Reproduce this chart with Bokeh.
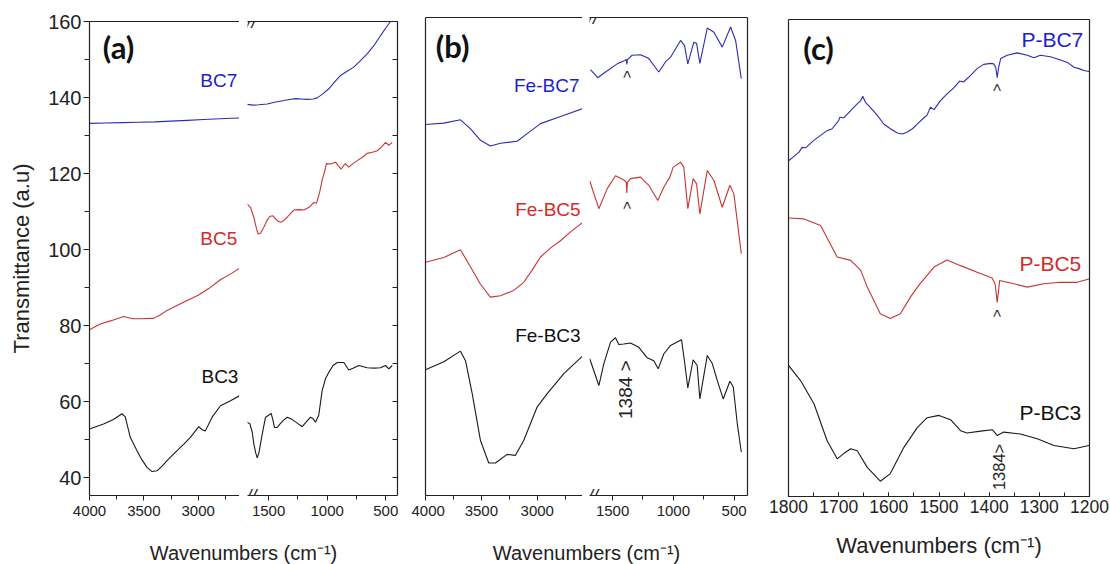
import numpy as np
from bokeh.plotting import figure
from bokeh.models import Range1d, LinearAxis, FixedTicker, Label
from bokeh.layouts import row, column
from bokeh.embed import file_html
from bokeh.resources import INLINE

# ---------------- data: panel (a) ----------------
bc7_hi_wn = [4000, 3850, 3700, 3550, 3400, 3250, 3100, 2950, 2800, 2620]
bc7_hi_t = [133.2, 133.3, 133.4, 133.5, 133.6, 133.8, 134.0, 134.2, 134.4, 134.6]
bc7_lo_wn = [1685, 1630, 1584, 1512, 1440, 1370, 1320, 1270, 1220, 1171, 1120, 1085, 1040, 986,
             940, 886, 830, 773, 720, 659, 600, 545, 500, 460, 430, 400]
bc7_lo_t = [138.2, 138.0, 138.1, 138.3, 138.8, 139.2, 139.5, 139.7, 139.6, 139.5, 139.6, 139.9,
            140.9, 142.3, 144.0, 145.8, 146.9, 148.0, 149.6, 151.5, 153.7, 156.3, 158.3, 160.0,
            161.3, 162.5]

bc5_hi_wn = [4000, 3901, 3800, 3687, 3600, 3533, 3410, 3350, 3287, 3200, 3102, 3000, 2900, 2800,
             2700, 2617]
bc5_hi_t = [78.9, 80.4, 81.3, 82.4, 81.8, 81.8, 81.9, 82.8, 84.0, 85.2, 86.6, 88.0, 89.8, 92.0,
            93.6, 95.1]
bc5_lo_wn = [1685, 1654, 1626, 1603, 1589, 1569, 1541, 1515, 1490, 1465, 1441, 1420, 1398, 1370,
             1341, 1310, 1285, 1240, 1200, 1150, 1114, 1091, 1065, 1043, 1020, 1006, 970, 929,
             900, 880, 862, 844, 816, 780, 744, 700, 659, 615, 573, 535, 502, 474, 445]
bc5_lo_t = [112.0, 111.1, 108.5, 105.5, 104.1, 104.3, 105.9, 107.6, 108.7, 108.9, 108.1, 107.5,
            107.2, 107.6, 108.5, 109.6, 110.4, 110.5, 110.4, 111.2, 112.4, 112.2, 115.0, 118.2,
            120.8, 122.6, 122.5, 123.0, 121.8, 121.2, 122.0, 122.6, 121.7, 122.6, 123.4, 124.3,
            125.3, 125.6, 126.0, 127.0, 128.2, 127.4, 128.2]

bc3_hi_wn = [4000, 3871, 3780, 3701, 3671, 3625, 3563, 3520, 3471, 3425, 3379, 3330, 3287, 3194,
             3130, 3072, 2995, 2964, 2934, 2872, 2795, 2703, 2617]
bc3_hi_t = [52.8, 54.1, 55.3, 56.8, 56.0, 50.6, 47.1, 44.8, 42.7, 41.6, 41.8, 43.1, 44.5, 47.1,
            48.9, 50.6, 53.4, 52.6, 52.3, 55.9, 58.9, 60.2, 61.6]
bc3_lo_wn = [1685, 1660, 1640, 1626, 1610, 1597, 1583, 1569, 1548, 1526, 1500, 1478, 1462, 1450,
             1427, 1400, 1370, 1341, 1310, 1285, 1250, 1213, 1180, 1142, 1120, 1100, 1072, 1043,
             1015, 986, 950, 915, 858, 816, 780, 730, 659, 600, 545, 502, 474, 445]
bc3_lo_t = [54.6, 54.2, 52.0, 48.9, 46.5, 45.2, 46.5, 48.9, 52.5, 55.9, 56.4, 56.9, 55.0, 53.2,
            53.2, 54.2, 55.2, 55.9, 55.5, 55.0, 54.2, 53.4, 54.6, 55.9, 55.5, 54.6, 56.4, 62.9,
            66.0, 67.7, 69.5, 70.3, 70.3, 68.3, 68.8, 69.5, 68.9, 68.8, 68.9, 69.5, 68.6, 69.5]

# ---------------- data: panel (b) ----------------
fe7_hi_wn = [4000, 3836, 3687, 3597, 3508, 3419, 3329, 3180, 3090, 2971, 2792, 2598]
fe7_hi_t = [77.6, 77.9, 78.6, 76.7, 74.3, 73.1, 73.7, 74.1, 75.7, 77.8, 79.3, 80.9]
fe7_lo_wn = [1682, 1622, 1558, 1462, 1400, 1387, 1383, 1378, 1339, 1270, 1202, 1120, 1065, 1023,
             941, 908, 881, 832, 809, 782, 721, 666, 598, 529, 488, 441]
fe7_lo_t = [89.1, 87.4, 88.6, 90.3, 91.0, 91.2, 90.2, 91.2, 92.1, 92.2, 91.4, 88.6, 90.7, 91.7,
            95.2, 94.1, 90.3, 94.8, 94.6, 90.4, 97.8, 96.9, 93.8, 98.0, 95.2, 87.2]

fe5_hi_wn = [4000, 3836, 3687, 3597, 3508, 3419, 3329, 3210, 3121, 3050, 2971, 2880, 2792, 2700,
             2598]
fe5_hi_t = [48.8, 49.8, 51.4, 47.8, 44.2, 41.5, 41.8, 42.9, 44.6, 47.0, 49.9, 51.8, 53.3, 55.2,
            57.0]
fe5_lo_wn = [1688, 1613, 1544, 1476, 1408, 1387, 1383, 1378, 1353, 1270, 1202, 1128, 1079, 1029,
             1001, 941, 914, 881, 837, 809, 782, 721, 666, 598, 535, 502, 441]
fe5_lo_t = [65.8, 60.0, 64.2, 66.9, 66.0, 65.5, 63.3, 65.5, 66.3, 66.6, 64.9, 61.7, 64.5, 66.6,
            68.7, 69.7, 68.7, 60.0, 66.3, 65.2, 58.9, 68.0, 65.9, 60.3, 64.9, 63.1, 50.6]

fe3_hi_wn = [4000, 3836, 3687, 3642, 3582, 3508, 3434, 3374, 3270, 3195, 3121, 3001, 2911, 2762,
             2598]
fe3_hi_t = [26.3, 28.0, 30.2, 28.2, 21.3, 11.5, 6.8, 6.8, 8.6, 8.4, 11.5, 18.5, 21.3, 25.5, 29.1]
fe3_lo_wn = [1688, 1641, 1613, 1572, 1517, 1476, 1449, 1408, 1353, 1284, 1215, 1161, 1125, 1079,
             1023, 969, 933, 909, 881, 837, 804, 782, 721, 680, 639, 590, 535, 507, 474, 441]
fe3_lo_t = [28.6, 25.1, 23.0, 27.6, 32.1, 33.0, 31.6, 31.7, 31.9, 31.0, 28.8, 28.2, 26.5, 29.6,
            31.4, 32.1, 32.6, 28.2, 22.5, 28.4, 27.2, 20.2, 29.3, 27.6, 24.1, 20.2, 23.9, 22.7,
            15.0, 9.1]

# ---------------- data: panel (c) ----------------
p7_wn = [1800, 1789, 1779, 1773, 1766, 1750, 1736, 1723, 1713, 1700, 1698, 1690, 1676, 1663,
         1656, 1652, 1647, 1637, 1623, 1610, 1597, 1583, 1573, 1563, 1553, 1543, 1530, 1524,
         1517, 1510, 1497, 1484, 1470, 1459, 1451, 1437, 1424, 1411, 1397, 1391, 1387, 1384,
         1381, 1377, 1364, 1344, 1324, 1311, 1298, 1278, 1258, 1244, 1231, 1221, 1211, 1201]
p7_t = [70.4, 71.3, 72.2, 73.2, 73.1, 74.6, 75.7, 76.7, 77.1, 78.8, 79.5, 79.4, 80.9, 82.3,
        83.0, 83.9, 82.7, 81.6, 79.9, 78.1, 77.1, 76.2, 76.0, 76.4, 77.1, 78.1, 79.4, 79.9,
        81.6, 81.1, 83.0, 84.4, 85.7, 87.1, 86.9, 88.3, 89.7, 90.6, 90.8, 90.7, 90.0, 87.8,
        90.0, 91.8, 92.5, 93.0, 92.5, 92.0, 92.5, 92.2, 91.5, 91.0, 90.0, 89.7, 89.3, 89.1]

p5_wn = [1800, 1769, 1736, 1703, 1676, 1656, 1643, 1617, 1597, 1577, 1557, 1540, 1510, 1484, 1457,
         1424, 1394, 1388, 1384, 1379, 1351, 1324, 1291, 1258, 1225, 1201]
p5_t = [58.4, 58.2, 56.8, 50.2, 49.5, 47.4, 43.9, 38.3, 37.3, 38.3, 41.8, 44.3, 48.1, 49.6, 48.4,
        47.0, 45.8, 44.5, 40.7, 45.3, 44.6, 43.9, 44.6, 44.9, 44.9, 45.6]

p3_wn = [1800, 1776, 1749, 1723, 1703, 1690, 1676, 1663, 1643, 1617, 1597, 1570, 1543, 1524, 1500,
         1477, 1457, 1444, 1417, 1394, 1384, 1371, 1338, 1304, 1271, 1231, 1201]
p3_t = [27.5, 24.3, 19.4, 11.7, 7.9, 9.0, 10.0, 9.6, 6.1, 3.2, 4.8, 10.3, 14.5, 16.5, 17.0, 16.1,
        13.8, 13.3, 13.7, 14.0, 12.8, 13.5, 13.1, 12.1, 10.7, 10.0, 10.7]

# tick definitions
hi_major = [4000, 3500, 3000]
hi_minor = [4000, 3750, 3500, 3250, 3000, 2750]
lo_major = [1500, 1000, 500]
lo_minor = [1500, 1250, 1000, 750, 500]
ya_major = [40, 60, 80, 100, 120, 140, 160]
ya_minor = [40, 50, 60, 70, 80, 90, 100, 110, 120, 130, 140, 150, 160]
c_major = [1800, 1700, 1600, 1500, 1400, 1300, 1200]
c_minor = [1800, 1750, 1700, 1650, 1600, 1550, 1500, 1450, 1400, 1350, 1300, 1250, 1200]

BLUE_L, RED_L, BLACK_L = "#2c2cb4", "#c83434", "#1a1a1a"
BLUE_T, RED_T, BLACK_T = "#1e1ecc", "#d42a2a", "#111111"
FONT = "Liberation Sans"
AX = "#222222"
XLABEL = "Wavenumbers (cm\u207b\u00b9)"


def make_fig(w, h, xr, yr, bl, br, bt, bb):
    p = figure(width=w, height=h, x_range=Range1d(*xr), y_range=Range1d(*yr),
               output_backend="svg", toolbar_location=None, title=None,
               x_axis_location=None, y_axis_location=None,
               min_border_left=bl, min_border_right=br, min_border_top=bt, min_border_bottom=bb)
    p.grid.visible = False
    p.outline_line_color = None
    p.background_fill_color = "white"
    p.border_fill_color = "white"
    return p


def add_axis(p, side, major=(), minor=(), t_in=0, t_out=0, m_in=0, m_out=0,
             size="15px", standoff=4):
    ax = LinearAxis(ticker=FixedTicker(ticks=list(major), minor_ticks=list(minor)))
    ax.axis_line_color = AX
    ax.axis_line_width = 1.2
    ax.major_tick_line_color = AX
    ax.minor_tick_line_color = AX
    ax.major_tick_in, ax.major_tick_out = t_in, t_out
    ax.minor_tick_in, ax.minor_tick_out = m_in, m_out
    ax.major_label_text_font = FONT
    ax.major_label_text_font_size = size
    ax.major_label_text_color = "#222222"
    ax.major_label_standoff = standoff
    p.add_layout(ax, side)
    return ax


def lab(p, x, y, text, color, size, font=FONT, style="normal", angle=0.0):
    p.add_layout(Label(x=x, y=y, text=text, text_color=color, text_font=font,
                       text_font_size=size, text_font_style=style, text_align="center",
                       text_baseline="middle", angle=angle))


def brk(p, sx, y0, y1):
    for y in (y0, y1):
        p.add_layout(Label(x=sx, y=y, x_units="screen", text="//", text_color=AX,
                           text_font=FONT, text_font_size="18px", text_font_style="italic",
                           text_align="center", text_baseline="middle"))


def title_fig(w, h, cx):
    t = make_fig(w, h, (0, w), (0, h), 0, 0, 0, 0)
    t.add_layout(Label(x=cx, y=h / 2 - 8, text=XLABEL, text_font=FONT, text_font_size="20px",
                       text_color="#222222", text_align="center", text_baseline="middle"))
    return t


# ---------------- panel (a) ----------------
YA = (35.3, 160)
aL = make_fig(239, 525, (4000, 2620), YA, 89, 0, 21, 30)
aR = make_fig(172, 525, (1680, 400), YA, 8, 14, 21, 30)
ya = add_axis(aL, "left", ya_major, ya_minor, 0, 6, 0, 5, size="20px", standoff=2)
ya.axis_label = "Transmittance (a.u)"
ya.axis_label_text_font = FONT
ya.axis_label_text_font_size = "22px"
ya.axis_label_text_font_style = "normal"
ya.axis_label_text_color = "#222222"
ya.axis_label_standoff = 11
add_axis(aL, "below", hi_major, hi_minor, 0, 5, 0, 4, size="15px", standoff=5)
add_axis(aL, "above")
add_axis(aR, "below", lo_major, lo_minor, 0, 5, 0, 4, size="15px", standoff=5)
add_axis(aR, "above")
add_axis(aR, "right", (), ya_minor, 0, 0, 5, 0)

for fig, series in ((aL, [(bc7_hi_wn, bc7_hi_t, BLUE_L), (bc5_hi_wn, bc5_hi_t, RED_L),
                          (bc3_hi_wn, bc3_hi_t, BLACK_L)]),
                    (aR, [(bc7_lo_wn, bc7_lo_t, BLUE_L), (bc5_lo_wn, bc5_lo_t, RED_L),
                          (bc3_lo_wn, bc3_lo_t, BLACK_L)])):
    for xs, ys, col in series:
        fig.line(xs, ys, line_color=col, line_width=1.1)

lab(aL, 3733, 153.2, "(a)", "#111111", "31px", font="Lato", style="bold")
lab(aL, 2810, 144.5, "BC7", BLUE_T, "19px")
lab(aL, 2810, 102.9, "BC5", RED_T, "19px")
lab(aL, 2800, 66.6, "BC3", BLACK_T, "19px")
brk(aR, 4, YA[1], YA[0])

ta = title_fig(411, 39, 243)

# ---------------- panel (b) ----------------
YB = (0, 100)
bL = make_fig(171, 525, (4000, 2595), YB, 14, 0, 17, 30)
bR = make_fig(185, 525, (1690, 390), YB, 7, 20, 17, 30)
add_axis(bL, "left")
add_axis(bL, "below", hi_major, hi_minor, 0, 5, 0, 4, size="15px", standoff=5)
add_axis(bL, "above")
add_axis(bR, "below", lo_major, lo_minor, 0, 5, 0, 4, size="15px", standoff=5)
add_axis(bR, "above")
add_axis(bR, "right")

for fig, series in ((bL, [(fe7_hi_wn, fe7_hi_t, BLUE_L), (fe5_hi_wn, fe5_hi_t, RED_L),
                          (fe3_hi_wn, fe3_hi_t, BLACK_L)]),
                    (bR, [(fe7_lo_wn, fe7_lo_t, BLUE_L), (fe5_lo_wn, fe5_lo_t, RED_L),
                          (fe3_lo_wn, fe3_lo_t, BLACK_L)])):
    for xs, ys, col in series:
        fig.line(xs, ys, line_color=col, line_width=1.1)

lab(bL, 3758, 94.1, "(b)", "#111111", "31px", font="Lato", style="bold")
lab(bL, 2915, 85.8, "Fe-BC7", BLUE_T, "19px")
lab(bL, 2905, 59.8, "Fe-BC5", RED_T, "19px")
lab(bL, 2905, 33.5, "Fe-BC3", BLACK_T, "19px")
lab(bR, 1384, 88.1, ">", "#222222", "14px", angle=np.pi / 2)
lab(bR, 1384, 60.7, ">", "#222222", "14px", angle=np.pi / 2)
lab(bR, 1390, 22.7, "1384  >", "#222222", "19px", angle=np.pi / 2)
brk(bR, 3.5, YB[1], YB[0])

tb = title_fig(356, 39, 175)

# ---------------- panel (c) ----------------
pc = make_fig(343, 564, (1800, 1200), (0, 100), 21, 21, 19, 68)
xc = add_axis(pc, "below", c_major, c_minor, 4, 0, 4, 0, size="17.5px", standoff=3)
xc.axis_label = XLABEL
xc.axis_label_text_font = FONT
xc.axis_label_text_font_size = "22px"
xc.axis_label_text_font_style = "normal"
xc.axis_label_text_color = "#222222"
xc.axis_label_standoff = 17
add_axis(pc, "above")
add_axis(pc, "left")
add_axis(pc, "right")

pc.line(p7_wn, p7_t, line_color=BLUE_L, line_width=1.1)
pc.line(p5_wn, p5_t, line_color=RED_L, line_width=1.1)
pc.line(p3_wn, p3_t, line_color=BLACK_L, line_width=1.1)

lab(pc, 1740, 94.1, "(c)", "#111111", "31px", font="Lato", style="bold")
lab(pc, 1274, 95.8, "P-BC7", BLUE_T, "21px")
lab(pc, 1278, 48.8, "P-BC5", RED_T, "21px")
lab(pc, 1278, 17.6, "P-BC3", BLACK_T, "21px")
lab(pc, 1384, 85.7, ">", "#222222", "14px", angle=np.pi / 2)
lab(pc, 1384, 38.4, ">", "#222222", "14px", angle=np.pi / 2)
lab(pc, 1381, 6.2, "1384>", "#222222", "16.5px", angle=np.pi / 2)

layout = row(column(row(aL, aR), ta), column(row(bL, bR), tb), pc)

with open("out.html", "w") as f:
    f.write(file_html(layout, INLINE))
